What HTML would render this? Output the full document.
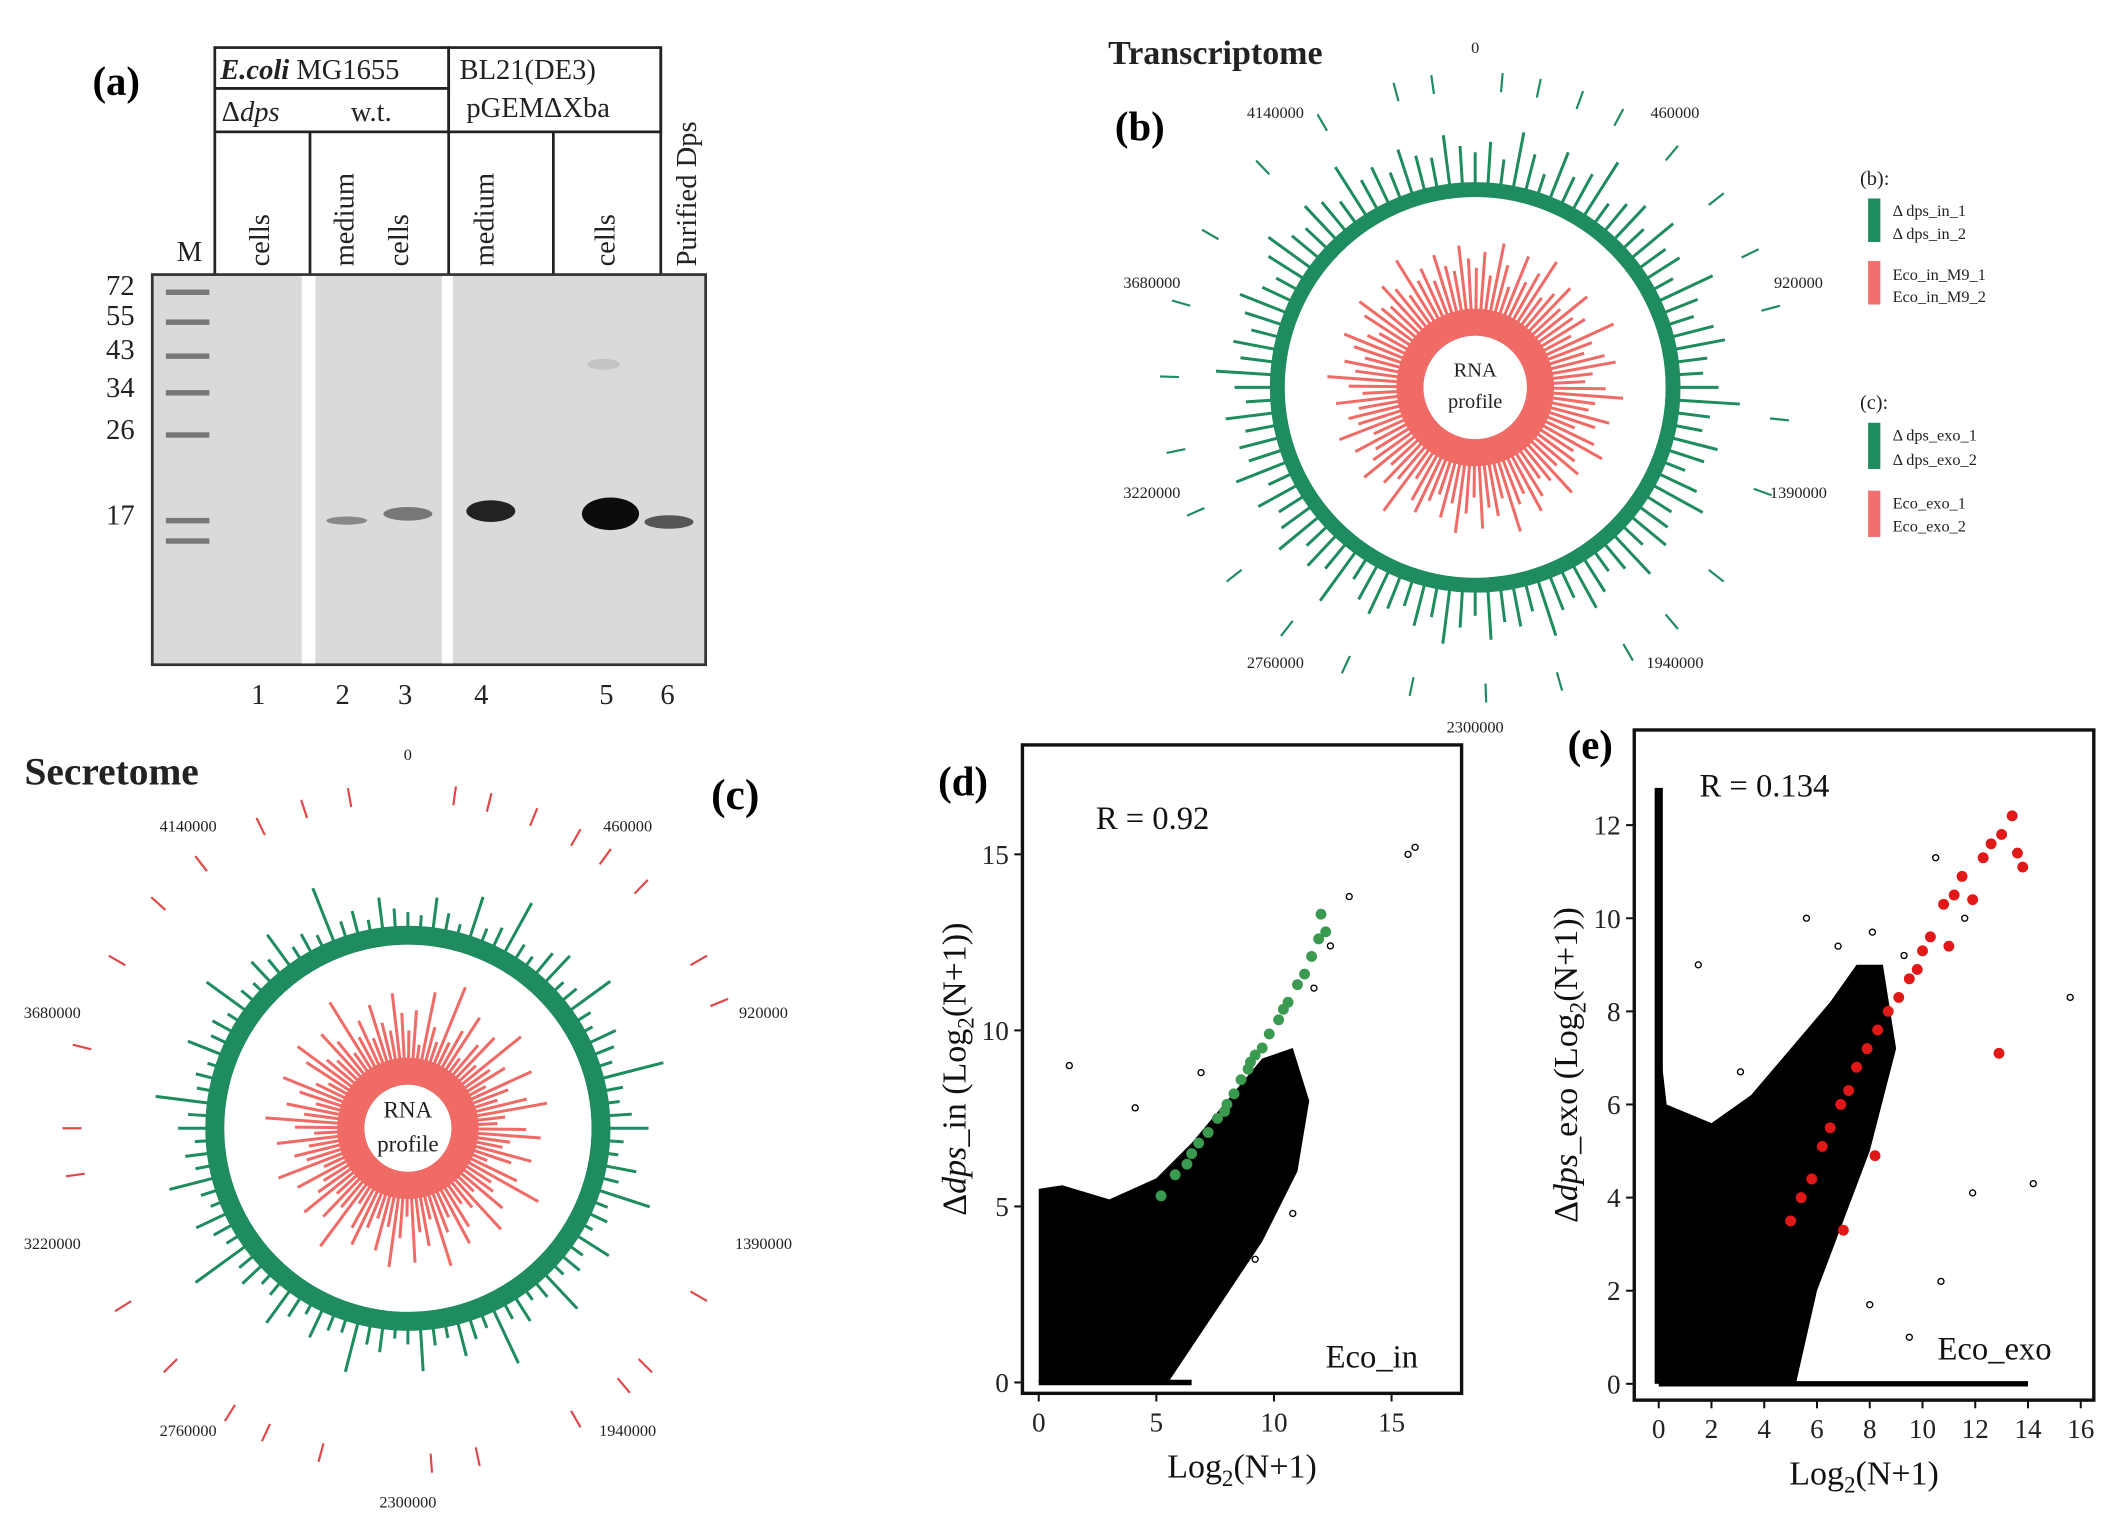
<!DOCTYPE html>
<html><head><meta charset="utf-8"><style>
html,body{margin:0;padding:0;background:#fff;}
svg{display:block;}
text{font-family:"Liberation Serif",serif;}
.sans{font-family:"Liberation Sans",sans-serif;}
</style></head><body>
<svg id="fig" width="2121" height="1532" viewBox="0 0 1560 1127" preserveAspectRatio="none" xmlns="http://www.w3.org/2000/svg">
<rect width="1560" height="1127" fill="#fff"/>
<g>
<text x="68" y="70" font-size="30" font-weight="bold">(a)</text>
<g stroke="#222" stroke-width="2" fill="none">
<rect x="158" y="35" width="172" height="30"/>
<rect x="158" y="65" width="172" height="32"/>
<rect x="330" y="35" width="156" height="62"/>
<line x1="158" y1="97" x2="158" y2="202"/><line x1="228" y1="97" x2="228" y2="202"/>
<line x1="330" y1="97" x2="330" y2="202"/><line x1="407" y1="97" x2="407" y2="202"/>
<line x1="486" y1="35" x2="486" y2="202"/>
</g>
<g class="sans" font-size="21" fill="#222">
<text x="162" y="58"><tspan font-style="italic" font-weight="bold">E.coli</tspan> MG1655</text>
<text x="163" y="89">Δ<tspan font-style="italic">dps</tspan></text>
<text x="258" y="89">w.t.</text>
<text x="338" y="58">BL21(DE3)</text>
<text x="343" y="86">pGEMΔXba</text>
<text transform="translate(198,196) rotate(-90)">cells</text>
<text transform="translate(260,196) rotate(-90)">medium</text>
<text transform="translate(300,196) rotate(-90)">cells</text>
<text transform="translate(363,196) rotate(-90)">medium</text>
<text transform="translate(452,196) rotate(-90)">cells</text>
<text transform="translate(512,196) rotate(-90)">Purified Dps</text>
<text x="130" y="192">M</text>
</g>
<rect x="112" y="202" width="407" height="287" fill="#dadada" stroke="#333" stroke-width="2"/>
<rect x="222" y="203" width="10" height="285" fill="#fff"/>
<rect x="325" y="203" width="8" height="285" fill="#fff"/>
<g id="ladder"></g>
<g id="mw" class="sans" font-size="21" fill="#222" text-anchor="end"></g>
<g>
<ellipse cx="255" cy="383" rx="15" ry="3" fill="#888"/>
<ellipse cx="300" cy="378" rx="18" ry="5" fill="#777"/>
<ellipse cx="361" cy="376" rx="18" ry="8" fill="#222"/>
<ellipse cx="449" cy="378" rx="21" ry="12" fill="#0c0c0c"/>
<ellipse cx="492" cy="384" rx="18" ry="5" fill="#555"/>
<ellipse cx="444" cy="268" rx="12" ry="4" fill="#c4c4c4"/>
</g>
<g class="sans" font-size="21" fill="#222" text-anchor="middle">
<text x="190" y="518">1</text><text x="252" y="518">2</text><text x="298" y="518">3</text><text x="354" y="518">4</text><text x="446" y="518">5</text><text x="491" y="518">6</text>
</g>
</g>
<text x="815" y="47" font-size="25" font-weight="bold" fill="#222">Transcriptome</text>
<text x="820" y="103" font-size="30" font-weight="bold">(b)</text>
<g id="circB"></g>
<g font-size="12" fill="#222">
<text x="1368" y="136" font-size="15">(b):</text>
<rect x="1374" y="146" width="9" height="32" fill="#1e8c5e"/>
<text x="1392" y="159">Δ dps_in_1</text><text x="1392" y="176">Δ dps_in_2</text>
<rect x="1374" y="192" width="9" height="32" fill="#f07070"/>
<text x="1392" y="206">Eco_in_M9_1</text><text x="1392" y="222">Eco_in_M9_2</text>
<text x="1368" y="301" font-size="15">(c):</text>
<rect x="1374" y="311" width="9" height="34" fill="#1e8c5e"/>
<text x="1392" y="324">Δ dps_exo_1</text><text x="1392" y="342">Δ dps_exo_2</text>
<rect x="1374" y="361" width="9" height="34" fill="#f07070"/>
<text x="1392" y="374">Eco_exo_1</text><text x="1392" y="391">Eco_exo_2</text>
</g>
<text x="18" y="577" font-size="29" font-weight="bold" fill="#222">Secretome</text>
<text x="523" y="595" font-size="32" font-weight="bold">(c)</text>
<g id="circC"></g>
<g id="scatD"></g>
<g id="scatE"></g>
</svg>
<script>
const NS="http://www.w3.org/2000/svg";
function mk(tag,attrs,parent){const e=document.createElementNS(NS,tag);for(const k in attrs)e.setAttribute(k,attrs[k]);parent.appendChild(e);return e;}
const mwValues=[72,55,43,34,26,17];
const mwY=[209,231,256,284,315,378];
const ladderY=[215,237,262,289,320,383,398];
const mwG=document.getElementById('mw');
mwValues.forEach((v,i)=>{const t=mk('text',{x:99,y:mwY[i]+8},mwG);t.textContent=v;

});
const lad=document.getElementById('ladder');
ladderY.forEach(y=>{const r=mk('rect',{x:122,y:y-2,width:32,height:4,fill:'#777'},lad);

});
const genomeTicks=["0","460000","920000","1390000","1940000","2300000","2760000","3220000","3680000","4140000"];
const bGreen=[22,30,18,40,26,14,35,20,28,45,16,24,32,19,38,22,27,15,42,25,18,30,36,21,17,28,44,23,19,33,26,15,29,40,20,24,31,18,37,22,16,27,34,20,25,41,19,28,23,35,17,26,39,21,30,18,24,33,27,16,43,22,29,19,36,25,20,31,17,38,24,28,21,34,18,26,40,23,30,19,27,35,22,16,29,37,24,20,32,26,18,41,23,28,19,33,25,21,36,27];
const bRed=[50,62,45,70,55,40,66,48,58,72,44,52,63,47,68,50,57,42,74,54,46,60,67,49,43,58,71,51,47,64,55,41,59,69,48,53,61,45,67,50,44,56,65,48,54,73,46,58,51,66,43,55,70,49,61,45,52,64,57,42,75,50,59,46,67,54,48,62,44,69,52,58,49,65,45,55,71,51,60,46,56,66,50,43,59,68,52,48,63,55,45,72,51,58,46,64,54,49,67,57];
const bOuterTicks=[5,12,20,28,40,52,64,75,96,110,128,140,150,164,178,192,205,218,232,246,258,272,286,300,316,330,345,352];
const cGreen=[10,8,22,12,6,30,9,14,40,11,7,18,25,8,12,35,10,6,20,14,9,45,12,8,16,28,10,7,22,11,38,9,13,6,26,10,15,8,33,12,7,19,11,42,9,14,24,8,12,30,10,6,17,13,36,9,11,21,7,15,28,10,8,18,12,44,9,14,23,7,11,32,10,16,8,20,13,38,9,12,6,25,11,15,8,34,10,7,19,12,27,9,14,8,41,11,16,7,22,13];
const cRed=[40,55,30,70,45,35,80,38,50,65,32,48,60,36,75,42,52,33,68,47,37,58,72,40,34,55,66,44,39,62,48,31,57,78,41,46,59,35,69,43,36,53,64,40,50,74,37,56,45,67,33,49,71,42,61,38,47,63,52,34,76,44,58,39,66,49,41,60,36,70,46,54,42,65,37,51,73,45,59,38,52,67,43,35,57,69,46,40,62,50,36,77,44,55,39,63,48,41,68,53];
const cOuterTicks=[8,14,22,30,36,44,60,68,120,135,140,150,168,176,195,205,212,225,238,262,270,284,300,312,322,334,342,350];
function circos(gid,cx,cy,rRing,ringW,green,red,ticks,tickColor,tickR,labR,fs,rInner){
  const g=document.getElementById(gid);
  const n=green.length;
  for(let i=0;i<n;i++){
    const a=(i/n)*2*Math.PI-Math.PI/2;const c=Math.cos(a),s=Math.sin(a);
    const r1=rRing,r2=rRing+ringW+green[i];
    const l=mk('line',{x1:cx+c*r1,y1:cy+s*r1,x2:cx+c*r2,y2:cy+s*r2,stroke:'#1e8c5e','stroke-width':2.2},g);
    
    
  }
  mk('circle',{cx:cx,cy:cy,r:rRing+ringW/2,fill:'none',stroke:'#1e8c5e','stroke-width':ringW},g);
  mk('circle',{cx:cx,cy:cy,r:rRing,fill:'#fff'},g);
  const m=red.length;
  for(let i=0;i<m;i++){
    const a=(i/m)*2*Math.PI-Math.PI/2+0.01;const c=Math.cos(a),s=Math.sin(a);
    const r2=rInner+red[i];
    const l=mk('line',{x1:cx+c*rInner,y1:cy+s*rInner,x2:cx+c*r2,y2:cy+s*r2,stroke:'#f06a66','stroke-width':2.2},g);
    
    
  }
  mk('circle',{cx:cx,cy:cy,r:rInner+10,fill:'none',stroke:'#f06a66','stroke-width':20},g);
  mk('circle',{cx:cx,cy:cy,r:rInner,fill:'#fff'},g);
  const t1=mk('text',{x:cx,y:cy-8,'text-anchor':'middle','font-size':fs,fill:'#222'},g);t1.textContent='RNA';
  const t2=mk('text',{x:cx,y:cy+fs+0,'text-anchor':'middle','font-size':fs,fill:'#222'},g);t2.textContent='profile';
  ticks.forEach(d=>{const a=d/180*Math.PI-Math.PI/2;const c=Math.cos(a),s=Math.sin(a);
    const l=mk('line',{x1:cx+c*tickR,y1:cy+s*tickR,x2:cx+c*(tickR+14),y2:cy+s*(tickR+14),stroke:tickColor,'stroke-width':1.6},g);
    
    });
  genomeTicks.forEach((lab,i)=>{const a=i/genomeTicks.length*2*Math.PI-Math.PI/2;
    const t=mk('text',{x:cx+Math.cos(a)*labR,y:cy+Math.sin(a)*labR+4,'text-anchor':'middle','font-size':12,fill:'#222'},g);t.textContent=lab;
    
    });
}
circos('circB',1085,285,140,11,bGreen,bRed,bOuterTicks,'#1e8c5e',218,250,15,38);
circos('circC',300,830,135,14,cGreen,cRed,cOuterTicks,'#e04848',240,275,17,32);
const dGreenX=[5.2,5.8,6.3,6.8,7.2,7.6,8.0,8.3,8.6,8.9,9.2,9.5,9.8,10.2,10.6,11.0,11.3,11.6,11.9,12.0,12.2,6.5,7.9,9.0,10.4];
const dGreenY=[5.3,5.9,6.2,6.8,7.1,7.5,7.9,8.2,8.6,8.9,9.3,9.5,9.9,10.3,10.8,11.3,11.6,12.1,12.6,13.3,12.8,6.5,7.7,9.1,10.6];
const dCloudX=[0,0,1,3,5,6.5,8,9.5,10.8,11.5,11,9.5,8,6.5,5.5,0];
const dCloudY=[0,5.5,5.6,5.2,5.8,6.8,8,9.2,9.5,8,6,4,2.5,1,0,0];
const dOutX=[1.3,4.1,6.9,10.5,12.4,13.2,15.7,16.0,10.8,9.2,11.7,7.8];
const dOutY=[9.0,7.8,8.8,6.2,12.4,13.8,15.0,15.2,4.8,3.5,11.2,3.0];
const dXTicks=[0,5,10,15],dYTicks=[0,5,10,15];
const eRedX=[5.0,5.4,5.8,6.2,6.5,6.9,7.2,7.5,7.9,8.3,8.7,9.1,9.5,10.0,10.3,10.8,11.2,11.5,11.9,12.3,12.6,13.0,13.4,13.6,13.8,12.9,7.0,8.2,9.8,11.0];
const eRedY=[3.5,4.0,4.4,5.1,5.5,6.0,6.3,6.8,7.2,7.6,8.0,8.3,8.7,9.3,9.6,10.3,10.5,10.9,10.4,11.3,11.6,11.8,12.2,11.4,11.1,7.1,3.3,4.9,8.9,9.4];
const eCloudX=[0,0,0.3,2,3.5,5,6.5,7.5,8.5,9,8,7,6,5.2,0];
const eCloudY=[0,7.5,6,5.6,6.2,7.2,8.2,9,9,7.2,5,3.5,2,0,0];
const eOutX=[1.5,3.1,5.6,6.8,8.1,9.3,10.5,11.6,14.2,15.6,10.7,11.9,4.6,9.5,8.0];
const eOutY=[9.0,6.7,10.0,9.4,9.7,9.2,11.3,10.0,4.3,8.3,2.2,4.1,2.6,1.0,1.7];
const eXTicks=[0,2,4,6,8,10,12,14,16],eYTicks=[0,2,4,6,8,10,12];
function scatter(gid,box,x0,xs,y0,ys,xt,yt,cloudX,cloudY,colX,colY,col,outX,outY,R,ylab,note,notePos,panelLab,panelPos,xmaxLine,colTop){
  const g=document.getElementById(gid);
  const X=v=>x0+v*xs,Y=v=>y0-v*ys;
  mk('rect',{x:box[0],y:box[1],width:box[2],height:box[3],fill:'none',stroke:'#111','stroke-width':2.5},g);
  let pts=cloudX.map((v,i)=>X(v)+','+Y(cloudY[i])).join(' ');
  const cl=mk('polygon',{points:pts,fill:'#000'},g);
  
  
  if(colTop){const c=mk('rect',{x:X(0)-3,y:Y(colTop),width:6,height:Y(0)-Y(colTop),fill:'#000'},g);
    
    }
  if(xmaxLine){const h=mk('line',{x1:X(0),y1:Y(0),x2:X(xmaxLine),y2:Y(0),stroke:'#000','stroke-width':4},g);
    
    }
  outX.forEach((v,i)=>{const c=mk('circle',{cx:X(v),cy:Y(outY[i]),r:2.2,fill:'none',stroke:'#000','stroke-width':1},g);
    
    });
  colX.forEach((v,i)=>{const c=mk('circle',{cx:X(v),cy:Y(colY[i]),r:4,fill:col},g);
    
    });
  xt.forEach(v=>{mk('line',{x1:X(v),y1:box[1]+box[3],x2:X(v),y2:box[1]+box[3]+6,stroke:'#111','stroke-width':1.5},g);
    const t=mk('text',{x:X(v),y:box[1]+box[3]+28,'text-anchor':'middle','font-size':20,fill:'#222'},g);t.textContent=v;
    
    });
  yt.forEach(v=>{mk('line',{x1:box[0]-6,y1:Y(v),x2:box[0],y2:Y(v),stroke:'#111','stroke-width':1.5},g);
    const t=mk('text',{x:box[0]-10,y:Y(v)+7,'text-anchor':'end','font-size':20,fill:'#222'},g);t.textContent=v;
    
    });
  const r=mk('text',{x:R[0],y:R[1],'font-size':24,fill:'#111'},g);r.textContent=R[2];
  
  
  const n=mk('text',{x:notePos[0],y:notePos[1],'font-size':24,fill:'#111'},g);n.textContent=note;
  
  
  const p=mk('text',{x:panelPos[0],y:panelPos[1],'font-size':30,'font-weight':'bold'},g);p.textContent=panelLab;
  
  
  const xl=mk('text',{x:box[0]+box[2]/2,y:box[1]+box[3]+62,'text-anchor':'middle','font-size':25,fill:'#111'},g);
  xl.innerHTML='Log<tspan font-size="17" dy="6">2</tspan><tspan dy="-6">(N+1)</tspan>';
  
  
  const yl=mk('text',{transform:`translate(${box[0]-42},${box[1]+box[3]/2}) rotate(-90)`,'text-anchor':'middle','font-size':25,fill:'#111'},g);
  yl.innerHTML=ylab;
  
  
}
scatter('scatD',[752,548,323,477],764,17.3,1017,25.9,dXTicks,dYTicks,dCloudX,dCloudY,dGreenX,dGreenY,'#3a9a50',dOutX,dOutY,[806,610,'R = 0.92'],'Δ<tspan font-style="italic">dps</tspan>_in  (Log<tspan font-size="17" dy="6">2</tspan><tspan dy="-6">(N+1))</tspan>','Eco_in',[975,1006],'(d)',[690,585],6.5,0);
scatter('scatE',[1202,537,338,493],1220,19.4,1018,34.25,eXTicks,eYTicks,eCloudX,eCloudY,eRedX,eRedY,'#e01818',eOutX,eOutY,[1250,586,'R = 0.134'],'Δ<tspan font-style="italic">dps</tspan>_exo (Log<tspan font-size="17" dy="6">2</tspan><tspan dy="-6">(N+1))</tspan>','Eco_exo',[1425,1000],'(e)',[1153,558],14,12.8);
</script>
</body></html>
